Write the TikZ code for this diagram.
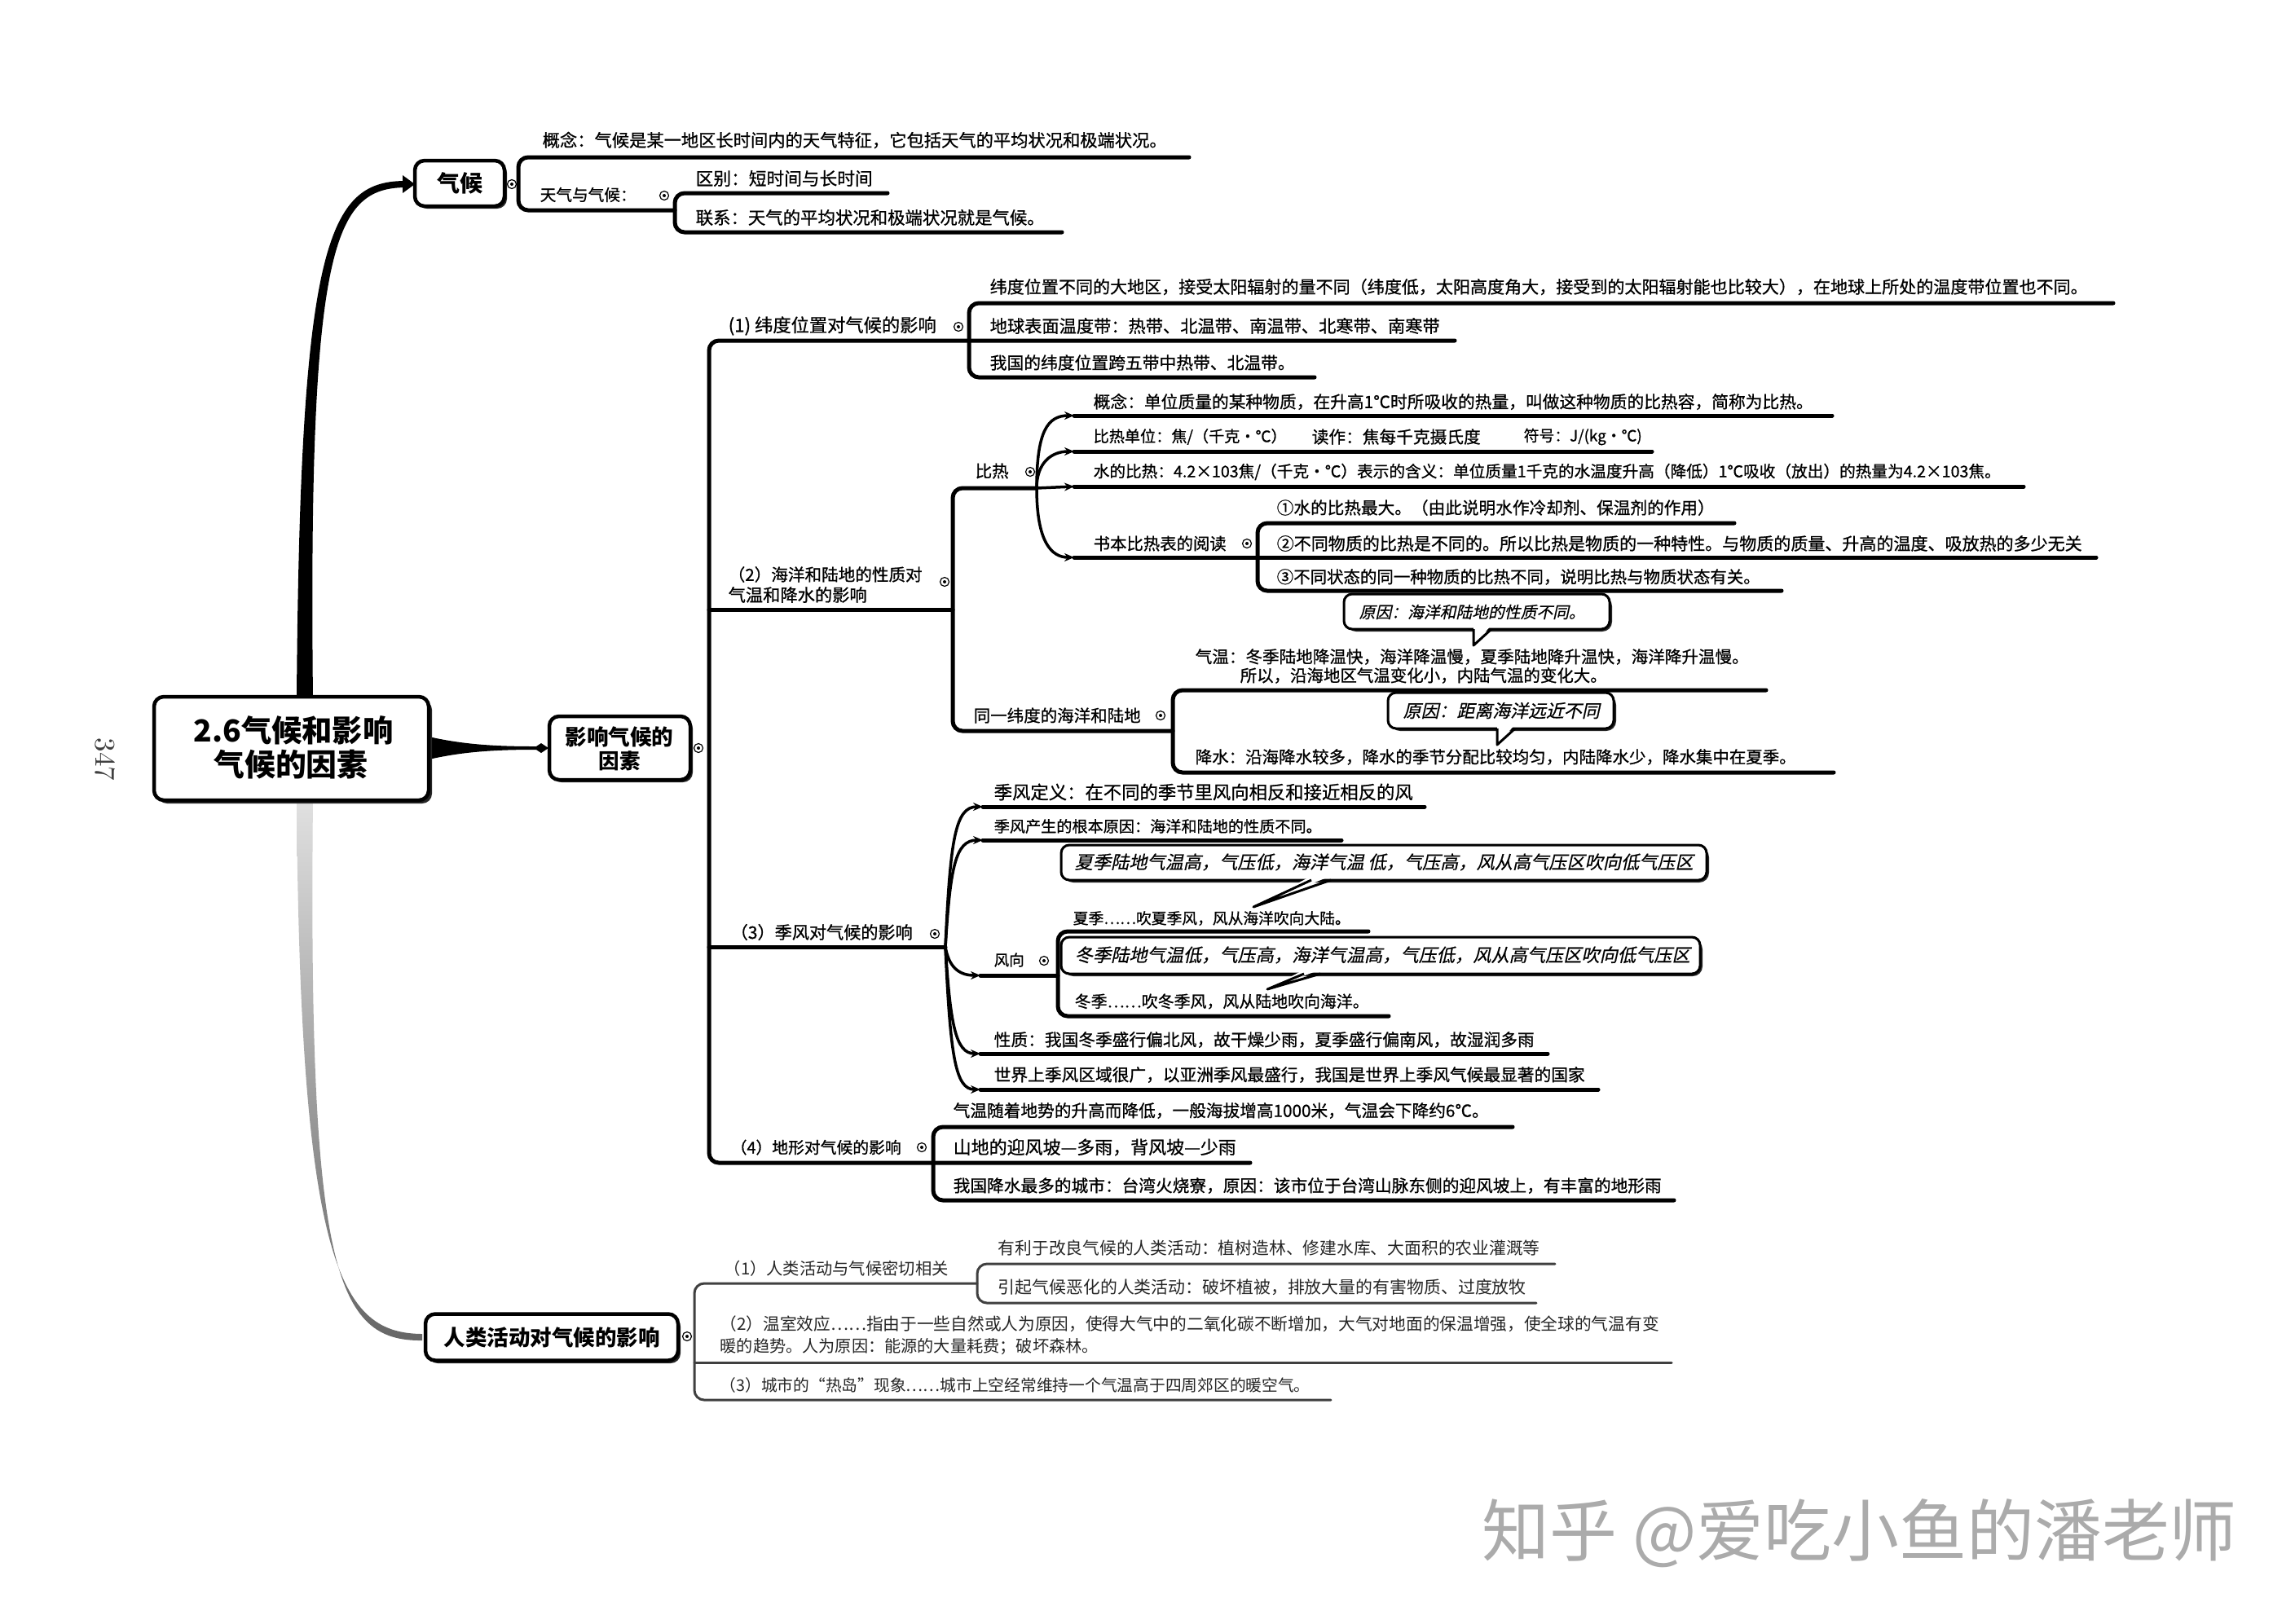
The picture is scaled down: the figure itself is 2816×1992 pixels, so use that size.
\documentclass[tikz,border=0pt]{standalone}
\usepackage{fontspec}
\usepackage{graphicx}
\newfontfamily\cjk{Noto Sans CJK SC}
\newfontfamily\cjkm[FakeBold=0.8]{Noto Sans CJK SC}
\newfontfamily\cjksl[FakeSlant=0.22,FakeBold=0.5]{Noto Sans CJK SC}
\usetikzlibrary{arrows.meta}
\newlength\px \setlength\px{0.1mm}
\newcommand\W[2]{\resizebox{#1\px}{!}{#2}}
\newcommand\mkr[2]{\node[mk] (#1) at (#2) {}; \fill (#1.center) circle[radius=0.2mm];}
\tikzset{
  tx/.style={anchor=west, inner sep=0pt, font=\cjkm\fontsize{8}{9}\selectfont},
  txh/.style={anchor=west, inner sep=0pt, text=black!85, font=\cjk\fontsize{8}{9}\selectfont},
  tsl/.style={anchor=west, inner sep=0pt, font=\cjksl\fontsize{8}{9}\selectfont},
  ctr/.style={anchor=center, inner sep=0pt, font=\cjk\bfseries\fontsize{8}{9}\selectfont},
  ln/.style={line width=0.5mm, rounded corners=1.2mm, line cap=round},
  hln/.style={line width=0.3mm, rounded corners=1.2mm, draw=black!75, line cap=round},
  cv/.style={line width=0.35mm, -{Stealth[length=1.2mm,width=1mm]}},
  mk/.style={circle, draw, line width=0.12mm, inner sep=0pt, minimum size=1.1mm, fill=white},
  bx/.style={draw, line width=0.45mm, rounded corners=1.2mm, fill=white, inner sep=0pt},
  cl/.style={draw, line width=0.3mm, rounded corners=1mm, fill=white},
  shd/.style={fill=black!85, rounded corners=1.2mm},
}
\begin{document}
\begin{tikzpicture}[x=0.1mm,y=-0.1mm]
\fill[white] (0,0) rectangle (2816,1992);
\useasboundingbox (0,0) rectangle (2816,1992);

% ---------- main branches ----------
\fill (364,857) .. controls (368,300) and (402,223) .. (496,222) -- (496,230) .. controls (410,232) and (378,300) .. (384,857) -- cycle;
\fill (494,215) -- (509,226) -- (494,237) -- cycle;
\shade[top color=black!12, bottom color=black!60] (364,982) .. controls (368,1560) and (420,1636) .. (518,1637) -- (518,1645) .. controls (412,1646) and (378,1560) .. (384,982) -- cycle;
\fill (526,904) .. controls (570,914) and (610,916) .. (658,916) -- (658,920) .. controls (610,920) and (570,922) .. (526,932) -- cycle;
\fill (655,918) -- (664,912) -- (673,918) -- (664,924) -- cycle;

% ---------- boxes ----------
\fill[shd] (193,859) rectangle (530,986);
\node[bx, minimum width=33.7mm, minimum height=12.7mm] (root) at (357.5,918.5) {};
\node[ctr] (rootA) at (360,896) {\W{245}{2.6气候和影响}};
\node[ctr] (rootB) at (357,938) {\W{189}{气候的因素}};

\fill[shd] (512,200) rectangle (622,256);
\node[bx, minimum width=11mm, minimum height=5.6mm] (qh) at (564,225) {};
\node[ctr] (qht) at (564,225) {\W{56}{气候}};

\fill[shd] (677,882) rectangle (850,960);
\node[bx, minimum width=17.3mm, minimum height=7.8mm] (yx) at (760.5,918) {};
\node[ctr] (yxA) at (760,904) {\W{133}{影响气候的}};
\node[ctr] (yxB) at (760,934) {\W{51}{因素}};

\fill[shd] (525,1616) rectangle (835,1673);
\node[bx, minimum width=31mm, minimum height=5.7mm] (rl) at (677,1641) {};
\node[ctr] (rlt) at (677,1641) {\W{265}{人类活动对气候的影响}};

\node[rotate=-90, text=black!75, font=\fontsize{10}{12}\selectfont] (pg) at (129,932) {347};

% ---------- 气候 ----------
\draw[ln] (1459,193) -- (636,193) -- (636,258) -- (828,258);
\draw[ln] (1089,237) -- (828,237) -- (828,285) -- (1303,285);
\node[tx] (t1) at (665,172) {\W{766}{概念：气候是某一地区长时间内的天气特征，它包括天气的平均状况和极端状况。}};
\node[tx] (t2) at (662,239) {\W{118}{天气与气候：}};
\node[tx] (t3) at (853,219) {\W{217}{区别：短时间与长时间}};
\node[tx] (t4) at (853,267) {\W{428}{联系：天气的平均状况和极端状况就是气候。}};
\mkr{m1}{628,226}
\mkr{m2}{815,240}

% ---------- 影响气候的因素 ----------
\draw[ln] (1785,418) -- (870,418) -- (870,1427) -- (1534,1427);
\mkr{m3}{857,918}
% (1)
\draw[ln] (2593,372) -- (1189,372) -- (1189,463) -- (1613,463);
\node[tx] (t8) at (893,400) {\W{255}{(1) 纬度位置对气候的影响}};
\node[tx] (t5) at (1214,352) {\W{1347}{纬度位置不同的大地区，接受太阳辐射的量不同（纬度低，太阳高度角大，接受到的太阳辐射能也比较大），在地球上所处的温度带位置也不同。}};
\node[tx] (t6) at (1214,400) {\W{552}{地球表面温度带：热带、北温带、南温带、北寒带、南寒带}};
\node[tx] (t7) at (1214,445) {\W{374}{我国的纬度位置跨五带中热带、北温带。}};
\mkr{m4}{1176,401}

% (2)
\draw[ln] (870,748) -- (1169,748);
\draw[ln] (1272,599) -- (1169,599) -- (1169,897) -- (1439,897);
\node[tx] (t9a) at (893,705) {\W{238}{（2）海洋和陆地的性质对}};
\node[tx] (t9b) at (893,730) {\W{170}{气温和降水的影响}};
\mkr{m5}{1159,714}
\node[tx] (t10) at (1196,578) {\W{41}{比热}};
\mkr{m6}{1264,579}
\draw[cv] (1272,599) .. controls (1272,530) and (1285,510) .. (1318,510);
\draw[cv] (1272,599) .. controls (1272,568) and (1290,554) .. (1318,554);
\draw[cv] (1272,599) -- (1318,597);
\draw[cv] (1272,599) .. controls (1272,665) and (1290,684) .. (1318,684);
\draw[ln] (1318,510) -- (2248,510);
\draw[ln] (1318,554) -- (2027,554);
\draw[ln] (1318,597) -- (2483,597);
\draw[ln] (1318,684) -- (2572,684);
\draw[ln] (2128,642) -- (1543,642) -- (1543,725) -- (2186,725);
\node[tx] (t11) at (1341,493) {\W{883}{概念：单位质量的某种物质，在升高1℃时所吸收的热量，叫做这种物质的比热容，简称为比热。}};
\node[tx] (t12a) at (1341,536) {\W{237}{比热单位：焦/（千克·℃）}};
\node[tx] (t12b) at (1609,536) {\W{207}{读作：焦每千克摄氏度}};
\node[tx] (t12c) at (1869,536) {\W{145}{符号：J/(kg·℃)}};
\node[tx] (t13) at (1341,579) {\W{1113}{水的比热：4.2×103焦/（千克·℃）表示的含义：单位质量1千克的水温度升高（降低）1℃吸收（放出）的热量为4.2×103焦。}};
\node[tx] (t14) at (1341,667) {\W{163}{书本比热表的阅读}};
\mkr{m7}{1530,667}
\node[tx] (t15) at (1566,623) {\W{537}{①水的比热最大。（由此说明水作冷却剂、保温剂的作用）}};
\node[tx] (t16) at (1566,667) {\W{988}{②不同物质的比热是不同的。所以比热是物质的一种特性。与物质的质量、升高的温度、吸放热的多少无关}};
\node[tx] (t17) at (1566,708) {\W{593}{③不同状态的同一种物质的比热不同，说明比热与物质状态有关。}};

\draw[ln] (2167,847) -- (1439,847) -- (1439,948) -- (2250,948);
\node[tx] (t18) at (1194,878) {\W{205}{同一纬度的海洋和陆地}};
\mkr{m8}{1424,878}
\node[tx] (t20a) at (1466,806) {\W{679}{气温：冬季陆地降温快，海洋降温慢，夏季陆地降升温快，海洋降升温慢。}};
\node[tx] (t20b) at (1521,829) {\W{450}{所以，沿海地区气温变化小，内陆气温的变化大。}};
\node[tx] (t22) at (1466,929) {\W{737}{降水：沿海降水较多，降水的季节分配比较均匀，内陆降水少，降水集中在夏季。}};
% callouts
\fill[shd] (1652,732) rectangle (1978,775);
\draw[cl] (1649,729) rectangle (1975,772);
\fill[white] (1808,767) -- (1808,792) -- (1830,767) -- cycle;
\draw[line width=0.3mm, line join=round] (1808,772) -- (1808,792) -- (1830,772);
\node[tsl] (t19) at (1667,751) {\W{277}{原因：海洋和陆地的性质不同。}};

\fill[shd] (1706,853) rectangle (1983,897);
\draw[cl] (1703,850) rectangle (1980,894);
\fill[white] (1837,889) -- (1837,914) -- (1859,889) -- cycle;
\draw[line width=0.3mm, line join=round] (1837,894) -- (1837,914) -- (1859,894);
\node[tsl] (t21) at (1721,872) {\W{241}{原因：距离海洋远近不同}};

% (3)
\draw[ln] (870,1162) -- (1160,1162);
\node[tx] (t23) at (896,1144) {\W{223}{（3）季风对气候的影响}};
\mkr{m9}{1147,1146}
\draw[cv] (1160,1162) .. controls (1166,1030) and (1172,990) .. (1206,990);
\draw[cv] (1160,1162) .. controls (1166,1065) and (1172,1031) .. (1206,1031);
\draw[cv] (1160,1162) .. controls (1164,1185) and (1175,1197) .. (1203,1197);
\draw[cv] (1160,1162) .. controls (1166,1255) and (1172,1293) .. (1203,1293);
\draw[cv] (1160,1162) .. controls (1166,1295) and (1172,1337) .. (1203,1337);
\draw[ln] (1206,990) -- (1748,990);
\draw[ln] (1206,1031) -- (1646,1031);
\draw[ln] (1203,1197) -- (1298,1197);
\draw[ln] (1679,1143) -- (1298,1143) -- (1298,1247) -- (1704,1247);
\draw[ln] (1203,1293) -- (1899,1293);
\draw[ln] (1203,1337) -- (1961,1337);
\node[tx] (t24) at (1219,972) {\W{514}{季风定义：在不同的季节里风向相反和接近相反的风}};
\node[tx] (t25) at (1219,1014) {\W{402}{季风产生的根本原因：海洋和陆地的性质不同。}};
\node[tx] (t27) at (1316,1127) {\W{340}{夏季……吹夏季风，风从海洋吹向大陆。}};
\node[tx] (t28) at (1219,1178) {\W{37}{风向}};
\mkr{m10}{1281,1179}
\node[tx] (t30) at (1318,1229) {\W{361}{冬季……吹冬季风，风从陆地吹向海洋。}};
\node[tx] (t31) at (1219,1276) {\W{663}{性质：我国冬季盛行偏北风，故干燥少雨，夏季盛行偏南风，故湿润多雨}};
\node[tx] (t32) at (1219,1319) {\W{725}{世界上季风区域很广，以亚洲季风最盛行，我国是世界上季风气候最显著的国家}};
\fill[shd] (1305,1040) rectangle (2097,1083);
\draw[cl] (1302,1037) rectangle (2094,1080);
\fill[white] (1609,1075) -- (1538,1113) -- (1633,1075) -- cycle;
\draw[line width=0.3mm, line join=round] (1609,1080) -- (1538,1113) -- (1633,1080);
\node[tsl] (t26) at (1318,1058) {\W{759}{夏季陆地气温高，气压低，海洋气温 低，气压高，风从高气压区吹向低气压区}};
\fill[shd] (1305,1153) rectangle (2089,1198);
\draw[cl] (1302,1150) rectangle (2086,1195);
\fill[white] (1600,1190) -- (1555,1214) -- (1620,1190) -- cycle;
\draw[line width=0.3mm, line join=round] (1600,1195) -- (1555,1214) -- (1620,1195);
\node[tsl] (t29) at (1318,1172) {\W{755}{冬季陆地气温低，气压高，海洋气温高，气压低，风从高气压区吹向低气压区}};

% (4)
\draw[ln] (1856,1383) -- (1145,1383) -- (1145,1473) -- (2054,1473);
\node[tx] (t33) at (896,1408) {\W{209}{（4）地形对气候的影响}};
\mkr{m11}{1131,1408}
\node[tx] (t34) at (1169,1363) {\W{657}{气温随着地势的升高而降低，一般海拔增高1000米，气温会下降约6℃。}};
\node[tx] (t35) at (1169,1408) {\W{347}{山地的迎风坡—多雨，背风坡—少雨}};
\node[tx] (t36) at (1169,1455) {\W{869}{我国降水最多的城市：台湾火烧寮，原因：该市位于台湾山脉东侧的迎风坡上，有丰富的地形雨}};

% ---------- 人类活动 ----------
\draw[hln] (1199,1575) -- (852,1575) -- (852,1718) -- (1633,1718);
\draw[hln] (852,1672) -- (2051,1672);
\draw[hln] (1908,1551) -- (1199,1551) -- (1199,1599) -- (1885,1599);
\mkr{m12}{843,1640}
\node[txh] (t37) at (888,1557) {\W{275}{（1）人类活动与气候密切相关}};
\node[txh] (t38) at (1224,1532) {\W{665}{有利于改良气候的人类活动：植树造林、修建水库、大面积的农业灌溉等}};
\node[txh] (t39) at (1224,1580) {\W{648}{引起气候恶化的人类活动：破坏植被，排放大量的有害物质、过度放牧}};
\node[txh] (t40a) at (883,1625) {\W{1152}{（2）温室效应……指由于一些自然或人为原因，使得大气中的二氧化碳不断增加，大气对地面的保温增强，使全球的气温有变}};
\node[txh] (t40b) at (883,1653) {\W{464}{暖的趋势。人为原因：能源的大量耗费；破坏森林。}};
\node[txh] (t41) at (883,1700) {\W{724}{（3）城市的“热岛”现象……城市上空经常维持一个气温高于四周郊区的暖空气。}};

% watermark
\node[anchor=west, inner sep=0pt, text=black!33, font=\cjk\fontsize{20}{24}\selectfont] (wm) at (1818,1882) {\W{926}{知乎 @爱吃小鱼的潘老师}};
\end{tikzpicture}
\end{document}
